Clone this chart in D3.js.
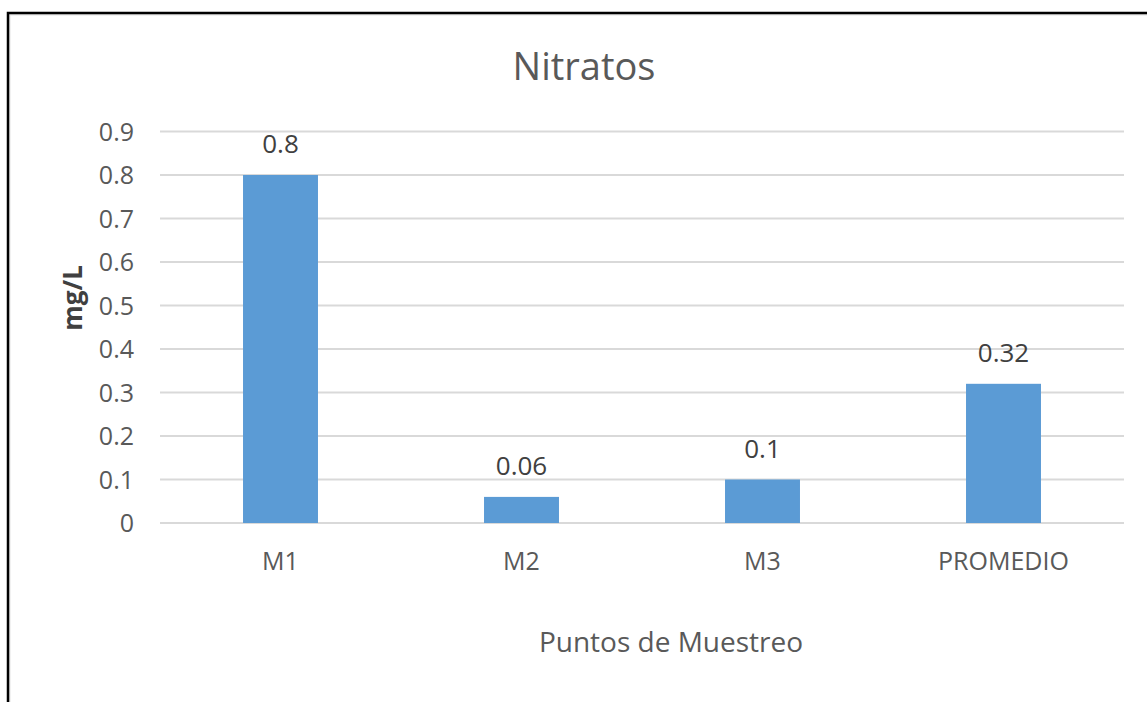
<!DOCTYPE html>
<html>
<head>
<meta charset="utf-8">
<script src="https://cdn.jsdelivr.net/npm/d3@7"></script>
<style>
  html, body { margin: 0; padding: 0; background: #fff; }
  svg { display: block; }
  text { font-family: "Open Sans", "Noto Sans", sans-serif; }
</style>
</head>
<body>
<svg id="chart" width="1147" height="702"></svg>
<script>
// Nitrate concentration per sampling point
const categories = ["M1", "M2", "M3", "PROMEDIO"];
const values = [0.8, 0.06, 0.1, 0.32];
const yTicks = [0, 0.1, 0.2, 0.3, 0.4, 0.5, 0.6, 0.7, 0.8, 0.9];

const svg = d3.select("#chart");
const W = 1147, H = 702;

// outer frame (runs off the right and bottom edges)
svg.append("rect")
  .attr("x", 9.5).attr("y", 14.5)
  .attr("width", W + 40).attr("height", H + 40)
  .attr("fill", "none").attr("stroke", "#e3e3e3").attr("stroke-width", 2);
svg.append("rect")
  .attr("x", 8).attr("y", 13)
  .attr("width", W + 40).attr("height", H + 40)
  .attr("fill", "none").attr("stroke", "#000").attr("stroke-width", 2.5);

const plot = { left: 160, right: 1124, top: 131.5, bottom: 523 };

const x = d3.scaleBand()
  .domain(categories)
  .range([plot.left, plot.right])
  .paddingInner(0.689)
  .paddingOuter(0.3445);

const y = d3.scaleLinear()
  .domain([0, 0.9])
  .range([plot.bottom, plot.top]);

// horizontal gridlines
svg.append("g")
  .selectAll("line")
  .data(yTicks)
  .join("line")
  .attr("x1", plot.left).attr("x2", plot.right)
  .attr("y1", d => y(d)).attr("y2", d => y(d))
  .attr("stroke", "#d9d9d9").attr("stroke-width", 2);

// y axis labels
const yAxis = d3.axisLeft(y)
  .tickValues(yTicks)
  .tickSize(0)
  .tickPadding(0)
  .tickFormat(d => d === 0 ? "0" : d3.format(".1f")(d));
const gy = svg.append("g")
  .attr("transform", `translate(${plot.left - 26},0)`)
  .call(yAxis);
gy.select(".domain").remove();
gy.selectAll("text")
  .attr("fill", "#595959")
  .style("font-size", "25px")
  .attr("dy", "0.35em");

// x axis labels
const xAxis = d3.axisBottom(x).tickSize(0).tickPadding(0);
const gx = svg.append("g")
  .attr("transform", `translate(0,${plot.bottom})`)
  .call(xAxis);
gx.select(".domain").remove();
gx.selectAll("text")
  .attr("fill", "#595959")
  .style("font-size", "25px")
  .attr("y", 47)
  .attr("dy", 0);

// bars
svg.append("g")
  .selectAll("rect")
  .data(values)
  .join("rect")
  .attr("x", (d, i) => x(categories[i]))
  .attr("width", x.bandwidth())
  .attr("y", d => y(d))
  .attr("height", d => y(0) - y(d))
  .attr("fill", "#5b9bd5");

// value labels
svg.append("g")
  .selectAll("text")
  .data(values)
  .join("text")
  .attr("x", (d, i) => x(categories[i]) + x.bandwidth() / 2)
  .attr("y", d => y(d) - 22)
  .attr("text-anchor", "middle")
  .attr("fill", "#404040")
  .style("font-size", "26px")
  .text(d => String(d));

// title
svg.append("text")
  .attr("x", 584).attr("y", 80)
  .attr("text-anchor", "middle")
  .attr("fill", "#595959")
  .style("font-size", "38px")
  .text("Nitratos");

// axis titles
svg.append("text")
  .attr("x", 671).attr("y", 652)
  .attr("text-anchor", "middle")
  .attr("fill", "#595959")
  .style("font-size", "28px")
  .text("Puntos de Muestreo");

svg.append("text")
  .attr("transform", "translate(82,298) rotate(-90)")
  .attr("text-anchor", "middle")
  .attr("fill", "#404040")
  .style("font-size", "26px")
  .style("font-weight", "bold")
  .text("mg/L");
</script>
</body>
</html>
